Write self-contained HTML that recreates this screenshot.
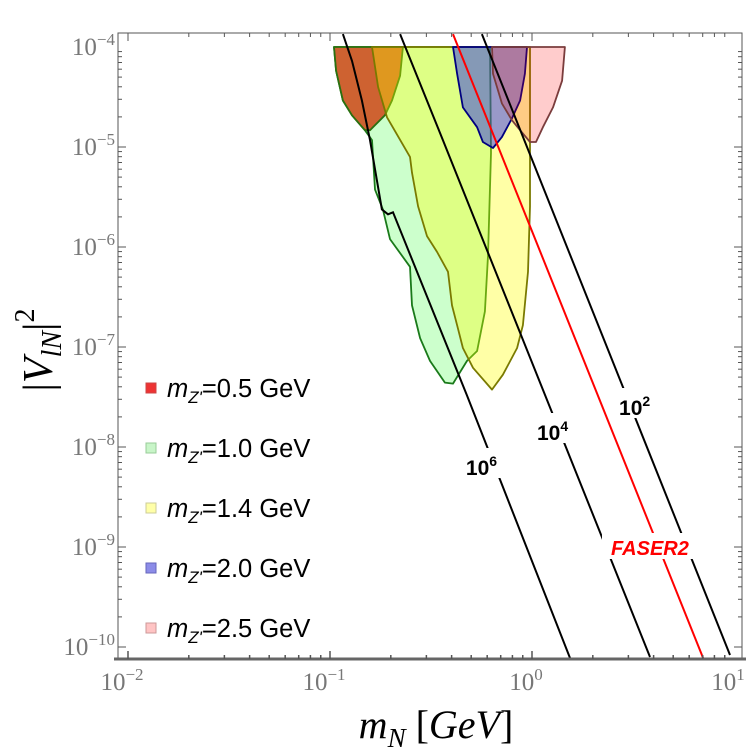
<!DOCTYPE html>
<html><head><meta charset="utf-8"><style>
body{margin:0;background:#fff;width:750px;height:750px;overflow:hidden}
svg{display:block}
</style></head><body>
<svg id="chart" width="750" height="750" viewBox="0 0 750 750" xmlns="http://www.w3.org/2000/svg"></svg>
<script>
// data in log10 units: [log10(mN), log10(|V|^2)]
const regionLabels = ["0.5","1.0","1.4","2.0","2.5"];
const regionRed = [[-0.980,-4],[-0.639,-4],[-0.653,-4.287],[-0.693,-4.535],[-0.728,-4.683],[-0.802,-4.832],[-0.827,-4.832],[-0.891,-4.683],[-0.936,-4.535],[-0.970,-4.238]];
const regionGreen = [[-0.980,-4],[-0.208,-4],[-0.203,-5.059],[-0.218,-6.089],[-0.233,-6.644],[-0.272,-7.040],[-0.322,-7.139],[-0.391,-7.366],[-0.431,-7.356],[-0.505,-7.139],[-0.554,-6.911],[-0.594,-6.584],[-0.604,-6.198],[-0.703,-5.921],[-0.738,-5.624],[-0.777,-5.426],[-0.792,-4.931],[-0.827,-4.832],[-0.891,-4.683],[-0.936,-4.535],[-0.970,-4.238]];
const regionYellow = [[-0.792,-4],[-0.010,-4],[-0.010,-4.931],[-0.010,-5.594],[-0.020,-6.248],[-0.045,-6.782],[-0.074,-7.010],[-0.144,-7.277],[-0.198,-7.426],[-0.292,-7.208],[-0.342,-7.010],[-0.371,-6.782],[-0.396,-6.584],[-0.416,-6.248],[-0.470,-6.050],[-0.520,-5.891],[-0.564,-5.594],[-0.594,-5.257],[-0.604,-5.099],[-0.718,-4.703],[-0.762,-4.4]];
const regionBlue = [[-0.391,-4],[-0.025,-4],[-0.035,-4.267],[-0.059,-4.535],[-0.099,-4.713],[-0.149,-4.901],[-0.193,-5.010],[-0.243,-4.950],[-0.272,-4.802],[-0.342,-4.604],[-0.371,-4.267]];
const regionPink = [[-0.198,-4],[0.163,-4],[0.149,-4.337],[0.104,-4.604],[0.054,-4.802],[0.020,-4.950],[-0.010,-4.950],[-0.059,-4.832],[-0.099,-4.733],[-0.149,-4.564],[-0.193,-4.267]];
const line1e6 = [[-0.936,-3.871],[-0.891,-4.139],[-0.842,-4.535],[-0.802,-4.931],[-0.743,-5.624],[-0.713,-5.673],[-0.688,-5.653],[-0.322,-7.485],[0.188,-10.11]];
const line1e4 = [[-0.653,-3.871],[-0.441,-4.931],[0.584,-10.1]];
const line1e2 = [[-0.248,-3.871],[0.980,-10.08]];
const lineFaser = [[-0.391,-3.871],[0.847,-10.11]];
const lineLabelPos = [[-0.248,-8.19],[0.104,-7.84],[0.510,-7.59],[0.584,-9.00]];
const xTickExps = [-2,-1,0,1];
const yTickExps = [-4,-5,-6,-7,-8,-9,-10];

const NS="http://www.w3.org/2000/svg";
const svg=document.getElementById('chart');
const L=118,R=742,T=33,B=659;
function X(lm){return 128+202*(lm+2);}
function Y(lv){return 47+100*(-4-lv);}
function mk(tag,attrs,parent){const e=document.createElementNS(NS,tag);for(const k in attrs)e.setAttribute(k,attrs[k]);(parent||svg).appendChild(e);return e;}
function pts(a){return a.map(p=>X(p[0]).toFixed(1)+','+Y(p[1]).toFixed(1)).join(' ');}

const clip=mk('clipPath',{id:'pc'});mk('rect',{x:L,y:T,width:R-L,height:B-T},clip);
const g=mk('g',{'clip-path':'url(#pc)'});



const regions=[
 [regionGreen,'rgba(0,255,0,0.2)','#1a7a1a','region-mz-1.0'],
 [regionRed,'rgba(205,90,40,0.95)','#2a7010','region-mz-0.5'],
 [regionYellow,'rgba(255,255,0,0.35)','#7a7a00','region-mz-1.4'],
 [regionBlue,'rgba(0,0,255,0.4)','#000080','region-mz-2.0'],
 [regionPink,'rgba(255,0,0,0.2)','#7a3c3c','region-mz-2.5']];
for(const r of regions){
 const p=mk('polygon',{points:pts(r[0]),fill:r[1],stroke:r[2],'stroke-width':1.8,'stroke-linejoin':'round'},g);
 
 
}
const lines=[[line1e6,'#000','line-1e6'],[line1e4,'#000','line-1e4'],[line1e2,'#000','line-1e2'],[lineFaser,'#f00','faser2-line']];
for(const l of lines){
 const p=mk('polyline',{points:pts(l[0]),fill:'none',stroke:l[1],'stroke-width':2},g);
 
 
}
const labTxt=[['10','6'],['10','4'],['10','2']];
for(let i=0;i<3;i++){
 const x=X(lineLabelPos[i][0]),y=Y(lineLabelPos[i][1]);
 const bg=mk('rect',{x:x-22,y:y-18,width:44,height:30,fill:'#fff'});
 
 
 const t=mk('text',{x:x-16,y:y+9,'font-family':'Liberation Sans, sans-serif','font-weight':'bold','font-size':21,fill:'#000'});
 
 
 t.textContent=labTxt[i][0];
 const s=mk('tspan',{dy:-9,'font-size':14},t);s.textContent=labTxt[i][1];
}
{
 const x=X(lineLabelPos[3][0]),y=Y(lineLabelPos[3][1]);
 const bg=mk('rect',{x:x-48,y:y-14,width:96,height:26,fill:'#fff'});
 
 
 const t=mk('text',{x:x,y:y+8,'text-anchor':'middle','font-family':'Liberation Sans, sans-serif','font-weight':'bold','font-style':'italic','font-size':20,fill:'#f00'});
 
 
 t.textContent='FASER2';
}
const fr=mk('rect',{x:L,y:T,width:R-L,height:B-T,fill:'none',stroke:'#555','stroke-width':1});


const ax=mk('line',{x1:L-4,y1:B,x2:R+4,y2:B,stroke:'#666','stroke-width':3});


for(let d=-2;d<=0;d++){for(let k=1;k<=9;k++){const x=X(d+Math.log10(k));const len=k==1?8:4;
 mk('line',{x1:x,y1:B,x2:x,y2:B-len,stroke:'#555','stroke-width':1.5});
 mk('line',{x1:x,y1:T,x2:x,y2:T+len,stroke:'#555','stroke-width':1});}}
for(let d=-10;d<=-5;d++){for(let k=1;k<=9;k++){const y=Y(d+Math.log10(k));const len=k==1?8:4;
 mk('line',{x1:L,y1:y,x2:L+len,y2:y,stroke:'#555','stroke-width':1});
 mk('line',{x1:R,y1:y,x2:R-len,y2:y,stroke:'#555','stroke-width':1});}}
for(const e of xTickExps){
 const t=mk('text',{x:X(e)-6,y:690,'text-anchor':'middle','font-family':'Liberation Serif, serif','font-size':25,fill:'#777'});
 
 
 t.textContent='10';const s=mk('tspan',{dy:-10,'font-size':17},t);s.textContent=(e<0?'\u2212':'')+Math.abs(e);
}
for(const e of yTickExps){
 const t=mk('text',{x:L-3,y:Y(e)+8,'text-anchor':'end','font-family':'Liberation Serif, serif','font-size':25,fill:'#777'});
 
 
 t.textContent='10';const s=mk('tspan',{dy:-10,'font-size':17},t);s.textContent='\u2212'+Math.abs(e);
}
const xt=mk('text',{x:436,y:738,'text-anchor':'middle','font-family':'Liberation Serif, serif','font-size':40,fill:'#000'});


xt.innerHTML='<tspan font-style="italic">m</tspan><tspan font-style="italic" font-size="27" dy="9">N</tspan><tspan dy="-9"> [</tspan><tspan font-style="italic">GeV</tspan>]';
const yt=mk('text',{x:0,y:0,transform:'translate(52,350) rotate(-90)','text-anchor':'middle','font-family':'Liberation Serif, serif','font-size':42,fill:'#000'});


yt.innerHTML='|<tspan font-style="italic">V</tspan><tspan font-style="italic" font-size="28" dy="9">lN</tspan><tspan dy="-9">|</tspan><tspan font-size="28" dy="-18">2</tspan>';
const legCol=['#ee3333','#c8f5c8','#ffffa8','#8c8ce8','#ffc4c4'];
const legBd=['#c44','#9c9','#cc9','#66b','#c99'];
for(let i=0;i<5;i++){
 const y=388+60*i;
 const r=mk('rect',{x:146,y:y-5,width:10,height:10,fill:legCol[i],stroke:legBd[i],'stroke-width':1});
 
 
 const t=mk('text',{x:167,y:y+9,'font-family':'Liberation Sans, sans-serif','font-size':25.5,fill:'#000'});
 
 
 t.innerHTML='<tspan font-style="italic">m</tspan><tspan font-size="17" dy="6" font-style="italic">Z\'</tspan><tspan dy="-6">='+regionLabels[i]+' GeV</tspan>';
}
</script>
</body></html>
